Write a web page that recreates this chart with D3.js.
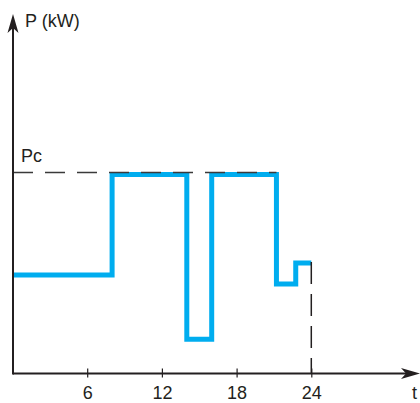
<!DOCTYPE html>
<html>
<head>
<meta charset="utf-8">
<script src="https://cdn.jsdelivr.net/npm/d3@7"></script>
<style>
  html, body { margin: 0; padding: 0; background: #fff; }
  svg { display: block; font-family: "Liberation Sans", Arial, Helvetica, sans-serif; }
</style>
</head>
<body>
<svg id="chart" width="420" height="403"></svg>
<script>
// Load profile over a day: power demand (kW) as a step function of time (h)
const hours = [0, 8, 14, 16, 21.2, 22.75, 24];
const power = [49, 99, 17, 99, 44.5, 55, 55];
const pcValue = 100;            // contracted power Pc
const tickHours = [6, 12, 18, 24];
const labels = { y: "P (kW)", x: "t", pc: "Pc" };

const ink = "#231f20";
const lineColor = "#00adef";
const fontSize = 18;

const svg = d3.select("#chart");

const x = d3.scaleLinear().domain([0, 24]).range([12.5, 311.3]);
const y = d3.scaleLinear().domain([0, 100]).range([373.5, 172.5]);

const originX = 13;
const originY = y(0);

// Load curve
const pts = hours.map((h, i) => [h, power[i]]);
const line = d3.line()
  .x(d => x(d[0]))
  .y(d => y(d[1]))
  .curve(d3.curveStepAfter);

svg.append("path")
  .datum(pts)
  .attr("d", line)
  .attr("fill", "none")
  .attr("stroke", lineColor)
  .attr("stroke-width", 5)
  .attr("stroke-linejoin", "miter")
  .attr("stroke-linecap", "butt");

// Pc reference line
const lastHigh = hours[power.lastIndexOf(d3.max(power)) + 1];
svg.append("line")
  .attr("x1", originX).attr("x2", x(lastHigh))
  .attr("y1", y(pcValue)).attr("y2", y(pcValue))
  .attr("stroke", "#3a3a3a")
  .attr("stroke-width", 1.5)
  .attr("stroke-dasharray", "20,12");

svg.append("text")
  .attr("x", 21)
  .attr("y", y(pcValue) - 11)
  .attr("font-size", fontSize)
  .attr("fill", ink)
  .text(labels.pc);

// End-of-day marker
const endH = hours[hours.length - 1];
svg.append("line")
  .attr("x1", x(endH)).attr("x2", x(endH))
  .attr("y1", y(power[power.length - 1]) - 1).attr("y2", originY)
  .attr("stroke", ink)
  .attr("stroke-width", 1.5)
  .attr("stroke-dasharray", "22,10");

// X axis with ticks crossing the baseline
const xAxis = d3.axisBottom(x).tickValues(tickHours).tickSize(0).tickPadding(0);
const gx = svg.append("g")
  .attr("transform", `translate(0,${originY})`)
  .call(xAxis);
gx.select(".domain").remove();
gx.selectAll(".tick line")
  .attr("y1", -5).attr("y2", 4)
  .attr("stroke", ink).attr("stroke-width", 1.2);
gx.selectAll(".tick text")
  .attr("y", 25).attr("dy", null)
  .attr("font-size", fontSize)
  .attr("font-family", "'Liberation Sans', Arial, sans-serif")
  .attr("fill", ink);

// Axis lines
svg.append("line")
  .attr("x1", originX).attr("x2", 408)
  .attr("y1", originY).attr("y2", originY)
  .attr("stroke", ink).attr("stroke-width", 2);
svg.append("line")
  .attr("x1", originX).attr("x2", originX)
  .attr("y1", 26).attr("y2", originY + 1)
  .attr("stroke", ink).attr("stroke-width", 2);

// Arrowheads
const ay = d3.path();
ay.moveTo(originX, 14);
ay.lineTo(originX + 5.5, 33);
ay.lineTo(originX, 28);
ay.lineTo(originX - 5.5, 33);
ay.closePath();
svg.append("path").attr("d", ay.toString()).attr("fill", ink);

const ax = d3.path();
ax.moveTo(420, originY);
ax.lineTo(401, originY - 5.5);
ax.lineTo(406, originY);
ax.lineTo(401, originY + 5.5);
ax.closePath();
svg.append("path").attr("d", ax.toString()).attr("fill", ink);

// Axis titles
svg.append("text")
  .attr("x", 25).attr("y", 27)
  .attr("font-size", fontSize)
  .attr("fill", ink)
  .text(labels.y);

svg.append("text")
  .attr("x", 412).attr("y", originY + 25)
  .attr("font-size", fontSize)
  .attr("fill", ink)
  .text(labels.x);
</script>
</body>
</html>
